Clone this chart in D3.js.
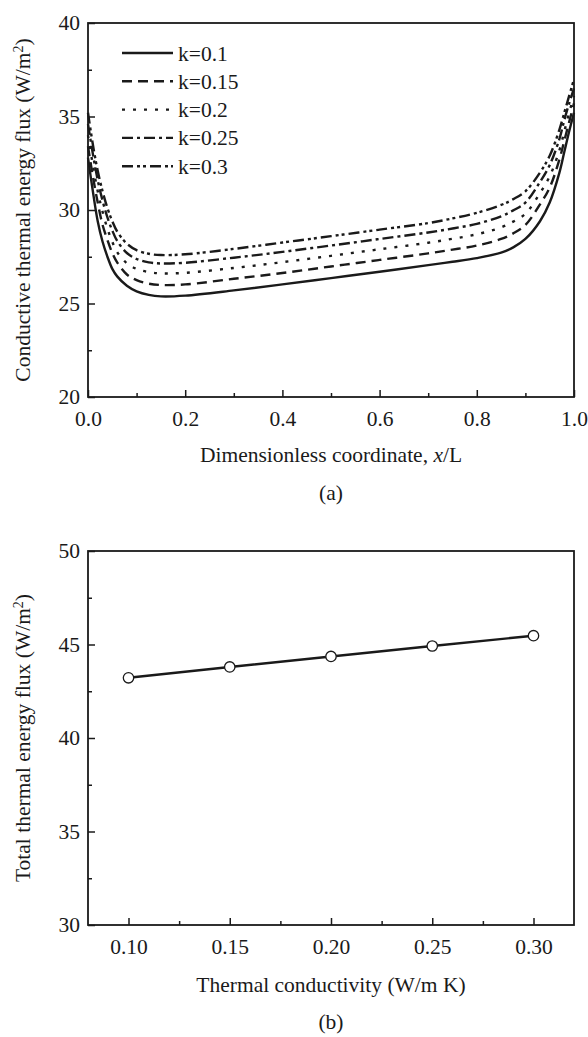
<!DOCTYPE html>
<html><head><meta charset="utf-8">
<script src="https://cdn.jsdelivr.net/npm/d3@7"></script>
<style>
html,body{margin:0;padding:0;background:#fff;}
svg text{font-family:"Liberation Serif","Times New Roman",serif;fill:#1a1a1a;}
</style></head>
<body><svg id="c" width="588" height="1037"></svg>
<script>
// ---- data: panel (a) ----
const xPos = [0, 0.01, 0.02, 0.03, 0.04, 0.05, 0.06, 0.08, 0.1, 0.125, 0.15, 0.2, 0.3, 0.4, 0.5, 0.6, 0.7, 0.75, 0.8, 0.85, 0.875, 0.9, 0.93, 0.95, 0.97, 0.98, 0.99, 1.0];
const seriesNames = ["k=0.1", "k=0.15", "k=0.2", "k=0.25", "k=0.3"];
const fluxK010 = [32.8, 31.0, 29.4, 28.3, 27.5, 26.85, 26.45, 25.95, 25.65, 25.46, 25.38, 25.42, 25.7, 26.02, 26.36, 26.7, 27.05, 27.23, 27.43, 27.72, 28.0, 28.45, 29.4, 30.4, 32.0, 33.1, 34.2, 35.2];
const fluxK015 = [33.4, 31.8, 30.4, 29.2, 28.4, 27.7, 27.2, 26.55, 26.25, 26.06, 25.99, 26.02, 26.32, 26.63, 26.98, 27.33, 27.68, 27.88, 28.1, 28.45, 28.75, 29.2, 30.3, 31.2, 32.7, 33.7, 34.7, 35.7];
const fluxK020 = [34.0, 32.4, 31.0, 29.9, 29.0, 28.3, 27.75, 27.15, 26.85, 26.68, 26.61, 26.64, 26.9, 27.21, 27.55, 27.9, 28.25, 28.46, 28.7, 29.07, 29.38, 29.8, 30.9, 31.8, 33.2, 34.2, 35.2, 36.1];
const fluxK025 = [34.6, 33.0, 31.6, 30.5, 29.6, 28.9, 28.35, 27.7, 27.38, 27.2, 27.14, 27.18, 27.45, 27.76, 28.1, 28.45, 28.8, 29.01, 29.26, 29.66, 29.98, 30.4, 31.5, 32.4, 33.8, 34.8, 35.7, 36.5];
const fluxK030 = [35.2, 33.5, 32.1, 31.0, 30.1, 29.4, 28.85, 28.2, 27.85, 27.66, 27.59, 27.63, 27.92, 28.26, 28.6, 28.95, 29.3, 29.55, 29.85, 30.27, 30.58, 31.0, 32.0, 32.9, 34.3, 35.2, 36.1, 37.0];
const xTicksA = [0, 0.2, 0.4, 0.6, 0.8, 1.0];
const yTicksA = [20, 25, 30, 35, 40];
// ---- data: panel (b) ----
const conductivity = [0.10, 0.15, 0.20, 0.25, 0.30];
const totalFlux = [43.22, 43.8, 44.36, 44.92, 45.47];
const xTicksB = [0.10, 0.15, 0.20, 0.25, 0.30];
const yTicksB = [30, 35, 40, 45, 50];

const svg = d3.select("#c");
const FS = 21.5;
const ink = "#1a1a1a";
const dashes = [null, "10,6", "3,8", "11,4,3,4", "11,4,3,3,3,4"];

function frameAxes(g, x, y, xt, yt, xMinor, yMinor, xfmt, yfmt) {
  const [x0, x1] = x.range(), [y0, y1] = y.range();
  g.append("g").attr("transform", `translate(0,${y0})`)
    .call(d3.axisBottom(x).tickValues(xMinor).tickSize(-4).tickFormat(""))
    .call(s => s.select(".domain").remove());
  g.append("g").attr("transform", `translate(${x0},0)`)
    .call(d3.axisLeft(y).tickValues(yMinor).tickSize(-4).tickFormat(""))
    .call(s => s.select(".domain").remove());
  const ax = g.append("g").attr("transform", `translate(0,${y0})`)
    .call(d3.axisBottom(x).tickValues(xt).tickSize(-7).tickPadding(14).tickFormat(xfmt));
  ax.select(".domain").remove();
  const ay = g.append("g").attr("transform", `translate(${x0},0)`)
    .call(d3.axisLeft(y).tickValues(yt).tickSize(-7).tickPadding(8).tickFormat(yfmt));
  ay.select(".domain").remove();
  g.selectAll(".tick line").attr("stroke", ink).attr("stroke-width", 1.5);
  g.selectAll(".tick text").attr("font-size", FS).attr("font-family", null).attr("fill", ink);
  g.append("rect").attr("x", x0).attr("y", y1).attr("width", x1 - x0).attr("height", y0 - y1)
    .attr("fill", "none").attr("stroke", ink).attr("stroke-width", 1.8);
}

// ---------- Panel (a) ----------
const xa = d3.scaleLinear().domain([0, 1]).range([88, 574]);
const ya = d3.scaleLinear().domain([20, 40]).range([397, 23]);
const ga = svg.append("g");
const allSeries = [fluxK010, fluxK015, fluxK020, fluxK025, fluxK030];
const lineA = d3.line().x((d, i) => xa(xPos[i])).y(d => ya(d)).curve(d3.curveCatmullRom.alpha(0.5));
allSeries.forEach((s, i) => {
  ga.append("path").datum(s).attr("d", lineA).attr("fill", "none")
    .attr("stroke", ink).attr("stroke-width", 2.4)
    .attr("stroke-dasharray", dashes[i]);
});
frameAxes(ga, xa, ya, xTicksA, yTicksA, [0.1, 0.3, 0.5, 0.7, 0.9], [22.5, 27.5, 32.5, 37.5],
  d3.format(".1f"), d3.format("d"));

const leg = ga.append("g");
seriesNames.forEach((n, i) => {
  const yy = 53 + i * 28.3;
  leg.append("line").attr("x1", 122).attr("x2", 173).attr("y1", yy).attr("y2", yy)
    .attr("stroke", ink).attr("stroke-width", 2.4).attr("stroke-dasharray", dashes[i]);
  leg.append("text").attr("x", 178).attr("y", yy).attr("dy", "0.35em")
    .attr("font-size", FS).text(n);
});

const tA = svg.append("text").attr("transform", "translate(30,210) rotate(-90)")
  .attr("text-anchor", "middle").attr("font-size", FS);
tA.append("tspan").text("Conductive thermal energy flux (W/m");
tA.append("tspan").attr("baseline-shift", "super").attr("font-size", 14).text("2");
tA.append("tspan").text(")");
const xtA = svg.append("text").attr("x", 331).attr("y", 462).attr("text-anchor", "middle").attr("font-size", FS);
xtA.append("tspan").text("Dimensionless coordinate, ");
xtA.append("tspan").attr("font-style", "italic").text("x");
xtA.append("tspan").text("/L");
svg.append("text").attr("x", 331).attr("y", 500).attr("text-anchor", "middle").attr("font-size", FS).text("(a)");

// ---------- Panel (b) ----------
const xb = d3.scaleLinear().domain([0.08, 0.32]).range([88, 574]);
const yb = d3.scaleLinear().domain([30, 50]).range([925, 551]);
const gb = svg.append("g");
frameAxes(gb, xb, yb, xTicksB, yTicksB, [0.125, 0.175, 0.225, 0.275], [32.5, 37.5, 42.5, 47.5],
  d3.format(".2f"), d3.format("d"));
const lineB = d3.line().x((d, i) => xb(conductivity[i])).y(d => yb(d));
gb.append("path").datum(totalFlux).attr("d", lineB).attr("fill", "none")
  .attr("stroke", ink).attr("stroke-width", 2.4);
gb.selectAll("circle.pt").data(totalFlux).join("circle").attr("class", "pt")
  .attr("cx", (d, i) => xb(conductivity[i])).attr("cy", d => yb(d)).attr("r", 5.2)
  .attr("fill", "#fff").attr("stroke", ink).attr("stroke-width", 1.3);

const tB = svg.append("text").attr("transform", "translate(30,738) rotate(-90)")
  .attr("text-anchor", "middle").attr("font-size", FS);
tB.append("tspan").text("Total thermal energy flux (W/m");
tB.append("tspan").attr("baseline-shift", "super").attr("font-size", 14).text("2");
tB.append("tspan").text(")");
svg.append("text").attr("x", 331).attr("y", 992).attr("text-anchor", "middle").attr("font-size", FS)
  .text("Thermal conductivity (W/m K)");
svg.append("text").attr("x", 331).attr("y", 1029).attr("text-anchor", "middle").attr("font-size", FS).text("(b)");
</script></body></html>
